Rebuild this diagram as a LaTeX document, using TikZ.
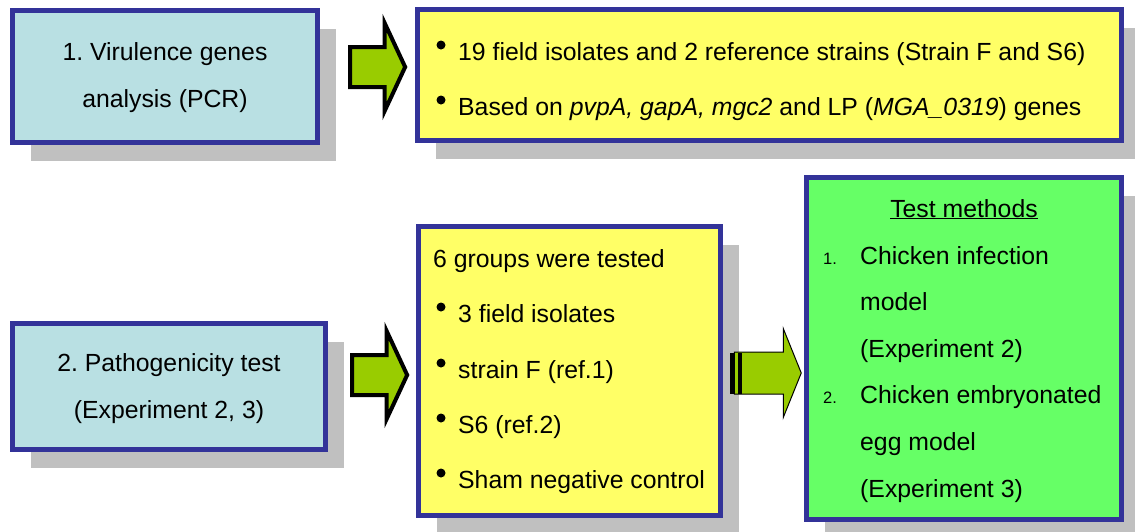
\documentclass[tikz,border=0pt]{standalone}
\usepackage{fontspec}
\setmainfont{Liberation Sans}
\usetikzlibrary{shapes.arrows,shadows}
\definecolor{boxblue}{HTML}{333399}
\definecolor{boxcyan}{HTML}{B9E0E3}
\definecolor{boxyellow}{HTML}{FFFF66}
\definecolor{boxgreen}{HTML}{66FF66}
\definecolor{arrowgreen}{HTML}{99CC00}
\definecolor{shadowgray}{HTML}{C0C0C0}
\frenchspacing
\tikzset{
  box/.style={rectangle,draw=boxblue,line width=5pt,inner sep=0pt,
    drop shadow={shadow xshift=18pt,shadow yshift=-18pt,fill=shadowgray,opacity=1}},
  txt/.style={inner sep=0pt,font=\fontsize{24.8}{29}\selectfont},
  numtxt/.style={inner sep=0pt,font=\fontsize{16.5}{20}\selectfont},
  fatarrow/.style={single arrow,draw=black,fill=arrowgreen,line width=4pt,
    inner sep=0pt,single arrow tip angle=130,single arrow head extend=24pt,
    minimum height=55pt,minimum width=84pt}
}
\begin{document}
\begin{tikzpicture}[x=1pt,y=-1pt]
   \useasboundingbox (0,0) rectangle (1135,531);
   \node[box,fill=boxcyan,minimum width=305pt,minimum height=132pt] (pcr) at (165,76.5) {};
   \node[box,fill=boxyellow,minimum width=704pt,minimum height=131pt] (isol) at (769.5,75) {};
   \node[box,fill=boxcyan,minimum width=313pt,minimum height=126pt] (patho) at (169,386.5) {};
   \node[box,fill=boxyellow,minimum width=302pt,minimum height=289pt] (groups) at (569.5,371) {};
   \node[box,fill=boxgreen,minimum width=315pt,minimum height=342pt] (methods) at (964,348.5) {};
   \node[fatarrow] (arr1) at (373,67) {\rule{0pt}{36pt}};
   \node[fatarrow] (arr2) at (375,375) {\rule{0pt}{36pt}};
   \node[fatarrow,line width=1pt,single arrow tip angle=136,single arrow head extend=23.5pt,
     minimum height=67pt,minimum width=89pt] (arr3) at (763.5,373) {\rule{0pt}{41pt}};
   \fill (730,352.5) rectangle (735,393.5);
   \fill (737.5,352.5) rectangle (742,393.5);
   \node[txt,anchor=base] (pcr1) at (165,60) {1. Virulence genes};
   \node[txt,anchor=base] (pcr2) at (165,107) {analysis (PCR)};
   \node[txt,anchor=base] (pat1) at (169,371) {2. Pathogenicity test};
   \node[txt,anchor=base] (pat2) at (169,418) {(Experiment 2, 3)};
   \fill (441,45) circle(4.5);
   \fill (441,100) circle(4.5);
   \node[txt,anchor=base west] (iso1) at (458,60) {19 field isolates and 2 reference strains (Strain F and S6)};
   \node[txt,anchor=base west] (iso2) at (458,115) {Based on \textit{pvpA, gapA, mgc2} and LP (\textit{MGA\_0319}) genes};
   \node[txt,anchor=base west] (grp0) at (433,267) {6 groups were tested};
   \fill (441,307) circle(4.5);
   \fill (441,363) circle(4.5);
   \fill (441,418) circle(4.5);
   \fill (441,473) circle(4.5);
   \node[txt,anchor=base west] (grp1) at (458,322) {3 field isolates};
   \node[txt,anchor=base west] (grp2) at (458,378) {strain F (ref.1)};
   \node[txt,anchor=base west] (grp3) at (458,433) {S6 (ref.2)};
   \node[txt,anchor=base west] (grp4) at (458,488) {Sham negative control};
   \node[txt,anchor=base] (meth0) at (964,217) {\underline{Test methods}};
   \node[numtxt,anchor=base west] (num1) at (823,264) {1.};
   \node[numtxt,anchor=base west] (num2) at (823,403) {2.};
   \node[txt,anchor=base west] (meth1) at (860,264) {Chicken infection};
   \node[txt,anchor=base west] (meth2) at (860,310) {model};
   \node[txt,anchor=base west] (meth3) at (860,357) {(Experiment 2)};
   \node[txt,anchor=base west] (meth4) at (860,403) {Chicken embryonated};
   \node[txt,anchor=base west] (meth5) at (860,450) {egg model};
   \node[txt,anchor=base west] (meth6) at (860,497) {(Experiment 3)};
\end{tikzpicture}
\end{document}
